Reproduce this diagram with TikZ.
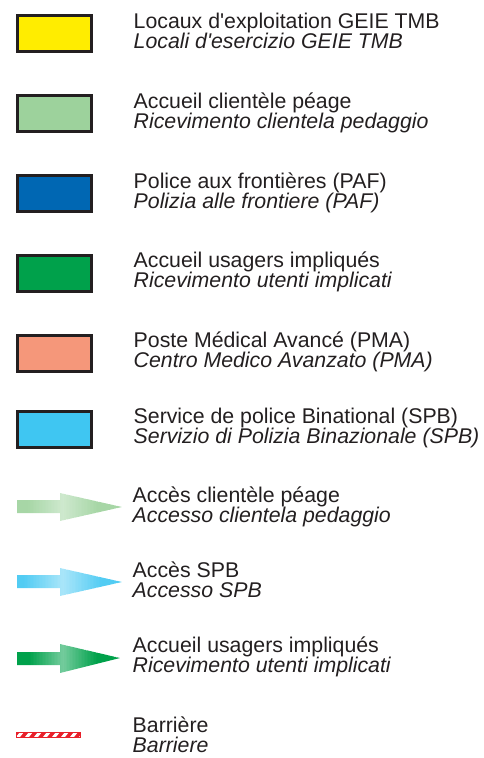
\documentclass[tikz,border=0pt]{standalone}
\usepackage{fontspec}
\setmainfont{Liberation Sans}
\usepackage{tikz}

\definecolor{boxline}{HTML}{231F20}
\definecolor{cjaune}{HTML}{FFED00}
\definecolor{cpeage}{HTML}{9DD29C}
\definecolor{cpaf}{HTML}{0067B3}
\definecolor{cusagers}{HTML}{00A14B}
\definecolor{cpma}{HTML}{F5977A}
\definecolor{cspb}{HTML}{3FC6F2}
\definecolor{cbarriere}{HTML}{E8202A}

\tikzset{
	legbox/.style={draw=boxline,line width=3pt,minimum width=74pt,minimum height=36pt,inner sep=0pt},
	legtext/.style={anchor=base west,inner sep=0pt,text=boxline,font=\fontsize{21.3}{20}\selectfont},
	legtextit/.style={legtext,font=\fontsize{21.3}{20}\selectfont\itshape}
}

\begin{document}
\begin{tikzpicture}[x=1pt,y=-1pt]
						\useasboundingbox (0,0) rectangle (484,758);
						
						% boxes
						\begin{scope}[every node/.style={legbox}]
							\node[fill=cjaune] (b1) at (54.5,33.5) {};
							\node[fill=cpeage] (b2) at (54.5,113.5) {};
							\node[fill=cpaf] (b3) at (54.5,193.5) {};
							\node[fill=cusagers] (b4) at (54.5,273.5) {};
							\node[fill=cpma] (b5) at (54.5,353.5) {};
							\node[fill=cspb] (b6) at (54.5,429) {};
						\end{scope}
						
						% arrows, lighter round the joint of shaft and head
						\begin{scope}
							\clip (17,500) -- (60,500) -- (60,493) -- (122,507) -- (60,521) -- (60,513) -- (17,513) -- cycle;
							\foreach \x in {16,17.5,...,122} {
								\pgfmathtruncatemacro{\p}{min(90,50+70*abs(\x-62)/60)}
								\fill[cpeage!\p] (\x,490) rectangle (\x+1.7,525);
							}
						\end{scope}
						\begin{scope}
							\clip (17,575) -- (60,575) -- (60,568) -- (122,582) -- (60,596) -- (60,588) -- (17,588) -- cycle;
							\foreach \x in {16,17.5,...,122} {
								\pgfmathtruncatemacro{\p}{min(90,45+70*abs(\x-62)/60)}
								\fill[cspb!\p] (\x,565) rectangle (\x+1.7,600);
							}
						\end{scope}
						\begin{scope}
							\clip (17,652) -- (60,652) -- (60,644) -- (120,658) -- (60,673) -- (60,665) -- (17,665) -- cycle;
							\foreach \x in {16,17.5,...,122} {
								\pgfmathtruncatemacro{\p}{min(100,55+80*abs(\x-62)/60)}
								\fill[cusagers!\p] (\x,640) rectangle (\x+1.7,677);
							}
						\end{scope}
						
						% barriere
						\begin{scope}
							\clip (16,732) rectangle (80,737);
							\fill[cbarriere] (16,732) rectangle (80,737);
							\foreach \x in {16,25,...,88}
								\fill[white] (\x,737) -- (\x+4,732) -- (\x+8,732) -- (\x+4,737) -- cycle;
						\end{scope}
						\draw[cbarriere,line width=0.6pt] (16,732) rectangle (80,737);
						
						% texts
						\begin{scope}
							\node[legtext] (fr1) at (133.5,28.5) {Locaux d\textquotesingle exploitation GEIE TMB};
							\node[legtextit] (it1) at ([yshift=-20pt]fr1.base west) {Locali d\textquotesingle esercizio GEIE TMB};
							\node[legtext] (fr2) at (133.5,108) {Accueil clientèle péage};
							\node[legtextit] (it2) at ([yshift=-20pt]fr2.base west) {Ricevimento clientela pedaggio};
							\node[legtext] (fr3) at (133.5,188) {Police aux frontières (PAF)};
							\node[legtextit] (it3) at ([yshift=-20pt]fr3.base west) {Polizia alle frontiere (PAF)};
							\node[legtext] (fr4) at (133.5,267.5) {Accueil usagers impliqués};
							\node[legtextit] (it4) at ([yshift=-20pt]fr4.base west) {Ricevimento utenti implicati};
							\node[legtext] (fr5) at (133.5,347.5) {Poste Médical Avancé (PMA)};
							\node[legtextit] (it5) at ([yshift=-20pt]fr5.base west) {Centro Medico Avanzato (PMA)};
							\node[legtext] (fr6) at (133.5,423) {Service de police Binational (SPB)};
							\node[legtextit] (it6) at ([yshift=-20pt]fr6.base west) {Servizio di Polizia Binazionale (SPB)};
							\node[legtext] (fr7) at (132.5,502) {Accès clientèle péage};
							\node[legtextit] (it7) at ([yshift=-20pt]fr7.base west) {Accesso clientela pedaggio};
							\node[legtext] (fr8) at (132.5,577) {Accès SPB};
							\node[legtextit] (it8) at ([yshift=-20pt]fr8.base west) {Accesso SPB};
							\node[legtext] (fr9) at (132.5,652) {Accueil usagers impliqués};
							\node[legtextit] (it9) at ([yshift=-20pt]fr9.base west) {Ricevimento utenti implicati};
							\node[legtext] (fr10) at (132.5,732.5) {Barrière};
							\node[legtextit] (it10) at ([yshift=-20pt]fr10.base west) {Barriere};
						\end{scope}
					\end{tikzpicture}
\end{document}
